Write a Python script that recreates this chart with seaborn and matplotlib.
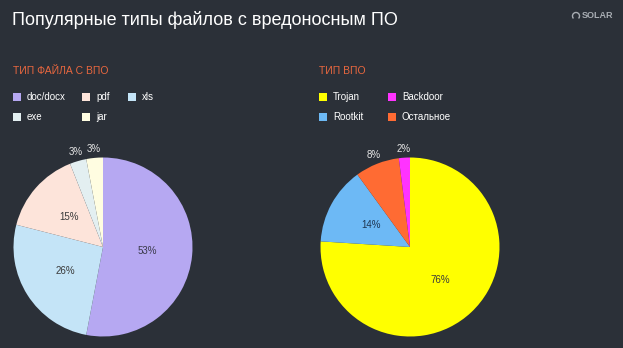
import matplotlib
matplotlib.use("Agg")
import math
import matplotlib.pyplot as plt
import seaborn as sns
from matplotlib.patches import Rectangle, Arc

sns.set_theme(style="dark")
plt.rcParams['font.family'] = ['Liberation Sans', 'DejaVu Sans']

title = "Популярные типы файлов с вредоносным ПО"
left_title = "ТИП ФАЙЛА С ВПО"
right_title = "ТИП ВПО"

file_types = ["doc/docx", "pdf", "xls", "exe", "jar"]
file_values = [53, 15, 26, 3, 3]
file_colors = ["#B6A8F2", "#FDE4DA", "#C4E4F7", "#E3EFF1", "#FFFDE1"]
file_pie_order = ["doc/docx", "xls", "pdf", "exe", "jar"]

mal_types = ["Trojan", "Backdoor", "Rootkit", "Остальное"]
mal_values = [76, 2, 14, 8]
mal_colors = ["#FFFF00", "#FF33FF", "#6DB9F5", "#FF6B33"]
mal_pie_order = ["Trojan", "Rootkit", "Остальное", "Backdoor"]

BG = "#2B3038"
W, H = 623, 348

fig = plt.figure(figsize=(W / 100, H / 100), dpi=100, facecolor=BG)


def fx(x):
    return x / W


def fy(y):
    return 1 - y / H


fig.text(fx(12), fy(20), title, color="white", fontsize=13, va="center", ha="left")
fig.text(fx(582), fy(16), "SOLAR", color="#A8ADB3", fontsize=6.5, va="center", ha="left",
         fontweight="bold")
fig.patches.append(Arc((fx(576), fy(16)), 7 / W, 7 / H, theta1=-60, theta2=240,
                       transform=fig.transFigure, color="#A8ADB3", lw=1))

ORANGE = "#E8673F"
fig.text(fx(13), fy(71), left_title, color=ORANGE, fontsize=7.5, va="center")
fig.text(fx(319), fy(71), right_title, color=ORANGE, fontsize=7.5, va="center")


def legend(items, colors, xs_marker, rows_y, ncol):
    for i, (lab, col) in enumerate(zip(items, colors)):
        r, c = divmod(i, ncol)
        x = xs_marker[c]
        y = rows_y[r]
        fig.patches.append(Rectangle((fx(x), fy(y + 4)), 8 / W, 8 / H,
                                     transform=fig.transFigure, facecolor=col,
                                     edgecolor="none"))
        fig.text(fx(x + 14), fy(y + 0.5), lab, color="white", fontsize=7, va="center")


legend(file_types, file_colors, [13, 82, 128], [97, 117], 3)
legend(mal_types, mal_colors, [319, 388], [97, 117], 2)


def draw_pie(cx, cy, r, order, names, values, colors, in_colors):
    ax = fig.add_axes([fx(cx - r), fy(cy + r), 2 * r / W, 2 * r / H])
    ax.set_facecolor(BG)
    vals = [values[names.index(n)] for n in order]
    cols = [colors[names.index(n)] for n in order]
    ax.pie(vals, colors=cols, startangle=90, counterclock=False,
           wedgeprops=dict(linewidth=0))
    total = sum(vals)
    ang = 90.0
    for v, tc in zip(vals, in_colors):
        span = 360 * v / total
        mid = math.radians(ang - span / 2)
        ang -= span
        if v < 10:
            d, col = 1.1, "#E6E6E6"
        else:
            d, col = 0.5, tc
        ax.text(d * math.cos(mid), d * math.sin(mid), f"{v}%", ha="center", va="center",
                fontsize=7, color=col)
    ax.set_xlim(-1, 1)
    ax.set_ylim(-1, 1)
    ax.set_aspect("equal")
    ax.axis("off")
    return ax


draw_pie(103, 247, 89.5, file_pie_order, file_types, file_values, file_colors,
         ["#3A3A4A", "#3A3A3A", "#3A3A3A", "#3A3A3A", "#3A3A3A"])
draw_pie(410, 247, 89.5, mal_pie_order, mal_types, mal_values, mal_colors,
         ["#3A3A3A", "#1E3550", "#3A3A3A", "#3A3A3A"])

fig.savefig("out.png", dpi=100, facecolor=BG)
